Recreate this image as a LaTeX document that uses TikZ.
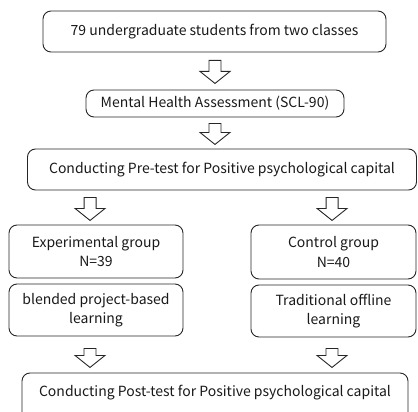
\documentclass[tikz,border=0pt]{standalone}
\usepackage{fontspec}
\setmainfont{Noto Sans CJK SC}
\usetikzlibrary{calc}
\begin{document}
\begin{tikzpicture}[x=1pt,y=-1pt,
  box/.style={draw=black!85, line width=0.9pt, rounded corners=8pt, align=center,
    inner sep=0pt, font=\fontsize{14}{19.5}\selectfont, text=black!90},
  hollow/.style={draw=black!85, line width=0.9pt, fill=white, line join=miter},
  pics/darr/.style={code={
    \draw[hollow] (-6,0) -- (6,0) -- (6,#1-12) -- (15,#1-12) -- (0,#1) -- (-15,#1-12) -- (-6,#1-12) -- cycle;}}]
\useasboundingbox (0,0) rectangle (418,412);
\begin{scope}
\clip (0,0) rectangle (418,412);
\node[box, minimum width=343pt, minimum height=41pt] (b1) at (214.5,31.5) {79 undergraduate students from two classes};
\node[box, minimum width=258pt, minimum height=27pt] (b2) at (215,103.5) {Mental Health Assessment (SCL-90)};
\node[box, minimum width=389pt, minimum height=41pt] (b3) at (222,169.5) {Conducting Pre-test for Positive psychological capital};
\node[box, minimum width=174pt, minimum height=53pt] (exp) at (96,251.5) {Experimental group\\N=39};
\node[box, minimum width=165pt, minimum height=54pt] (ctl) at (333.5,252) {Control group\\N=40};
\node[box, minimum width=174pt, minimum height=52pt] (bl) at (96,310) {blended project-based\\learning};
\node[box, minimum width=165pt, minimum height=52pt] (tr) at (333.5,311) {Traditional offline\\learning};
\node[box, minimum width=386pt, minimum height=48pt] (post) at (215,397) {};
\node[font=\fontsize{14}{19.5}\selectfont, text=black!90] (posttxt) at (215,393) {Conducting Post-test for Positive psychological capital};
\pic at ($(b1.south)+(0.5,8)$) {darr=23};
\pic at ($(b2.south)+(0,6)$) {darr=21};
\pic at ($(b3.south west)+(63,7)$) {darr=23};
\pic at ($(b3.south west)+(305,7)$) {darr=23};
\pic at ($(bl.south)+(-6,12)$) {darr=19};
\pic at ($(tr.south)+(-1.5,11)$) {darr=19};
\end{scope}
\end{tikzpicture}
\end{document}
